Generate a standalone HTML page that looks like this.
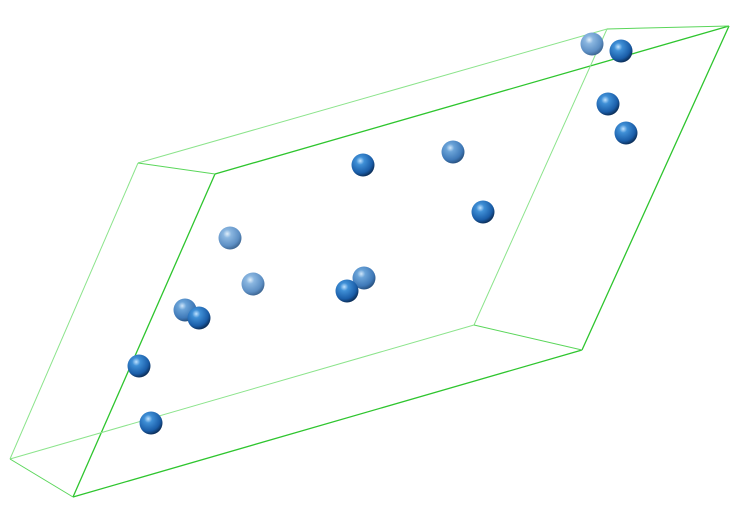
<!DOCTYPE html>
<html><head><meta charset="utf-8"><style>html,body{margin:0;padding:0;background:#fff}svg{display:block}</style></head>
<body>
<svg id="scene" width="737" height="522" viewBox="0 0 737 522" xmlns="http://www.w3.org/2000/svg">
<defs>
<radialGradient id="gFront" cx="0.38" cy="0.32" r="0.7">
<stop offset="0" stop-color="#bfe2ff"/><stop offset="0.25" stop-color="#3f8fd6"/><stop offset="0.75" stop-color="#1a5da8"/><stop offset="1" stop-color="#0b2c55"/></radialGradient>
<radialGradient id="gMid" cx="0.38" cy="0.32" r="0.7">
<stop offset="0" stop-color="#cfe6fa"/><stop offset="0.25" stop-color="#6aa3d8"/><stop offset="0.75" stop-color="#3f79b8"/><stop offset="1" stop-color="#27507e"/></radialGradient>
<radialGradient id="gBack" cx="0.38" cy="0.32" r="0.7">
<stop offset="0" stop-color="#e0eefa"/><stop offset="0.25" stop-color="#8ab6e0"/><stop offset="0.75" stop-color="#5d8fc4"/><stop offset="1" stop-color="#3d6591"/></radialGradient>
</defs>
<g id="edges"></g>
<g id="atoms"></g>
</svg>
<script>
const vertexX = [73, 582, 729, 215, 10, 474, 607, 138];
const vertexY = [497, 350, 26, 174, 459, 325, 29, 163];
const edgeFrom = [0, 1, 2, 3, 4, 5, 6, 7, 4, 5, 6, 7];
const edgeTo   = [1, 2, 3, 0, 5, 6, 7, 4, 0, 1, 2, 3];
const edgeDepth = [0, 0, 0, 0, 2, 2, 2, 2, 1, 1, 1, 1];
const atomX = [592, 453, 230, 253, 185, 364, 621, 608, 626, 363, 483, 347, 199, 139, 151];
const atomY = [44, 152, 238, 284, 310, 278, 51, 104, 133, 165, 212, 291, 318, 366, 423];
const atomDepth = [2, 1, 2, 2, 1, 1, 0, 0, 0, 0, 0, 0, 0, 0, 0];
const NS = 'http://www.w3.org/2000/svg';
const eg = document.getElementById('edges');
const edgeColors = ['#2ec52e', '#5ad65a', '#8ce48c'];
for (let i = 0; i < edgeFrom.length; i++) {
  const l = document.createElementNS(NS, 'line');
  
  
  l.setAttribute('x1', vertexX[edgeFrom[i]]); l.setAttribute('y1', vertexY[edgeFrom[i]]);
  l.setAttribute('x2', vertexX[edgeTo[i]]); l.setAttribute('y2', vertexY[edgeTo[i]]);
  l.setAttribute('stroke', edgeColors[edgeDepth[i]]);
  l.setAttribute('stroke-width', edgeDepth[i] === 0 ? 1.3 : 1);
  eg.appendChild(l);
}
const ag = document.getElementById('atoms');
const grads = ['url(#gFront)', 'url(#gMid)', 'url(#gBack)'];
for (let i = 0; i < atomX.length; i++) {
  const c = document.createElementNS(NS, 'circle');
  
  
  c.setAttribute('cx', atomX[i]); c.setAttribute('cy', atomY[i]);
  c.setAttribute('r', 11.5);
  c.setAttribute('fill', grads[atomDepth[i]]);
  ag.appendChild(c);
}
</script>
</body></html>
